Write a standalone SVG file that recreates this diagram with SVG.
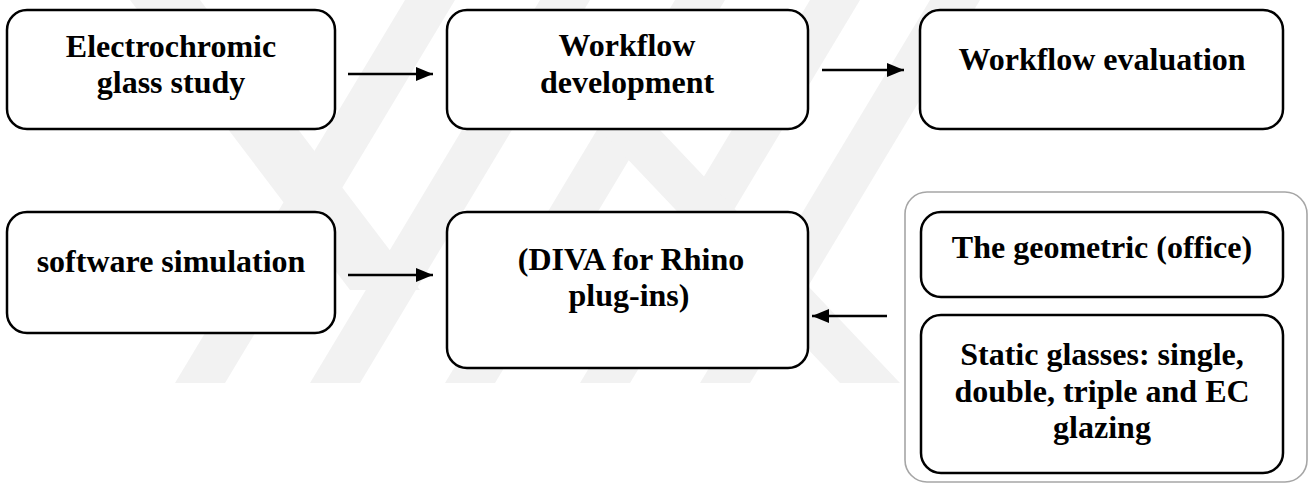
<svg xmlns="http://www.w3.org/2000/svg" width="1312" height="485" viewBox="0 0 1312 485">
  <defs>
    <style>
      .box { fill: #ffffff; stroke: #000000; stroke-width: 2.5; }
      .group { fill: none; stroke: #a6a6a6; stroke-width: 1.6; }
      .lbl { font-family: "Liberation Serif", "Times New Roman", serif; font-weight: bold; font-size: 32px; fill: #000000; text-anchor: middle; }
      .conn { stroke: #000000; stroke-width: 2.4; fill: none; marker-end: url(#arrow); }
      .wm { fill: #f2f2f2; }
    </style>
    <marker id="arrow" markerWidth="18" markerHeight="14" refX="17" refY="7" orient="auto" markerUnits="userSpaceOnUse">
      <path d="M0,0 L17,7 L0,14 Z" fill="#000000"/>
    </marker>
    <clipPath id="wmclip">
      <rect x="0" y="0" width="1312" height="383"/>
    </clipPath>
  </defs>

  <rect x="0" y="0" width="1312" height="485" fill="#ffffff"/>

  <g id="watermark" clip-path="url(#wmclip)">
    <polygon class="wm" points="130,0 200,0 420,290 350,290"/>
    <polygon class="wm" points="175,383 225,383 455,0 405,0"/>
    <polygon class="wm" points="310,383 360,383 590,0 540,0"/>
    <polygon class="wm" points="445,383 495,383 725,0 675,0"/>
    <polygon class="wm" points="580,383 630,383 860,0 810,0"/>
    <polygon class="wm" points="700,383 750,383 980,0 930,0"/>
    <polygon class="wm" points="600,130 660,130 900,383 840,383"/>
  </g>

  <g id="connectors">
    <line class="conn" x1="348" y1="74" x2="433" y2="74"/>
    <line class="conn" x1="822" y1="70" x2="904" y2="70"/>
    <line class="conn" x1="348" y1="275" x2="433" y2="275"/>
    <line class="conn" x1="887" y1="316" x2="812" y2="316"/>
  </g>

  <g id="n1">
    <rect class="box" x="7" y="10" width="328" height="119" rx="20"/>
    <text class="lbl" x="171" y="57">Electrochromic</text>
    <text class="lbl" x="171" y="93">glass study</text>
  </g>
  <g id="n2">
    <rect class="box" x="447" y="10" width="361" height="119" rx="20"/>
    <text class="lbl" x="627" y="56">Workflow</text>
    <text class="lbl" x="627" y="93">development</text>
  </g>
  <g id="n3">
    <rect class="box" x="920" y="10" width="363" height="119" rx="20"/>
    <text class="lbl" x="1102" y="70">Workflow evaluation</text>
  </g>
  <g id="n4">
    <rect class="box" x="7" y="212" width="328" height="121" rx="20"/>
    <text class="lbl" x="171" y="272">software simulation</text>
  </g>
  <g id="n5">
    <rect class="box" x="447" y="212" width="361" height="156" rx="20"/>
    <text class="lbl" x="631" y="270">(DIVA for Rhino</text>
    <text class="lbl" x="629" y="306">plug-ins)</text>
  </g>
  <g id="inputs">
    <rect class="group" x="905" y="192" width="402" height="290" rx="22"/>
  </g>
  <g id="n6">
    <rect class="box" x="921" y="212" width="362" height="85" rx="20"/>
    <text class="lbl" x="1102" y="258">The geometric (office)</text>
  </g>
  <g id="n7">
    <rect class="box" x="921" y="315" width="362" height="158" rx="20"/>
    <text class="lbl" x="1102" y="365">Static glasses: single,</text>
    <text class="lbl" x="1102" y="402">double, triple and EC</text>
    <text class="lbl" x="1102" y="438">glazing</text>
  </g>
</svg>
